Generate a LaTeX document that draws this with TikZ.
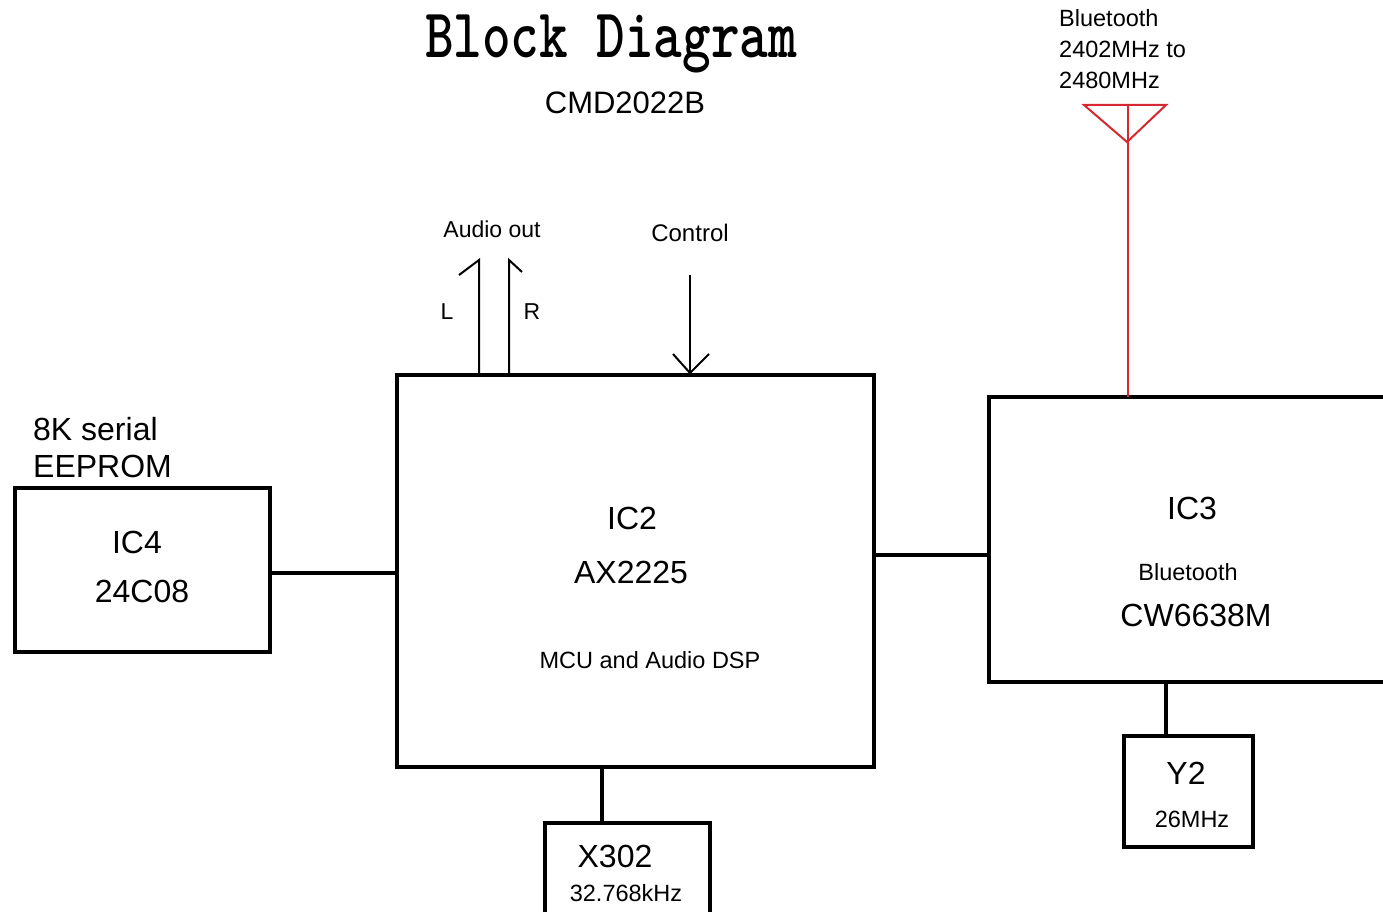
\documentclass[tikz,border=0pt]{standalone}
\usepackage{fontspec}
\setmainfont{Liberation Sans}
\definecolor{antred}{RGB}{214,40,48}
\begin{document}
\begin{tikzpicture}[x=1pt,y=-1pt,
  blk/.style={draw,line width=4pt,rectangle,inner sep=0pt,outer sep=0pt},
  wire/.style={line width=4pt},
  thin/.style={line width=2pt},
  big/.style={font=\fontsize{32}{36}\selectfont,anchor=base,inner sep=0pt},
  small/.style={font=\fontsize{23.5}{28}\selectfont,anchor=base,inner sep=0pt},
  lbl/.style={font=\fontsize{23}{28}\selectfont,anchor=base,inner sep=0pt}]
\useasboundingbox (0,0) rectangle (1383,912);
\clip (0,0) rectangle (1383,912);
% title
\node[anchor=base,inner sep=0pt] (title) at (611,58) {\scalebox{1}[1.28]{\ttfamily\bfseries\fontsize{54.5}{60}\selectfont Block Diagram}};
\node[anchor=base,inner sep=0pt,font=\fontsize{31}{36}\selectfont] (model) at (625,114) {CMD2022B};
% boxes
\node[blk,minimum width=255pt,minimum height=164pt] (IC4) at (142.5,570) {};
\node[blk,minimum width=477pt,minimum height=392pt] (IC2) at (635.5,571) {};
\node[blk,minimum width=411pt,minimum height=285pt] (IC3) at (1194.5,539.5) {};
\node[blk,minimum width=165pt,minimum height=102pt] (X302) at (627.5,874) {};
\node[blk,minimum width=129pt,minimum height=111pt] (Y2) at (1188.5,791.5) {};
% box texts
\node[big,anchor=base west] (eep1) at (33,440) {8K serial};
\node[big,anchor=base west] (eep2) at (33,477) {EEPROM};
\node[big] (t4a) at (137,553) {IC4};
\node[big] (t4b) at (142,602) {24C08};
\node[big] (t2a) at (632,529) {IC2};
\node[big] (t2b) at (631,583) {AX2225};
\node[small] (t2c) at (650,668) {MCU and Audio DSP};
\node[big] (t3a) at (1192,519) {IC3};
\node[small] (t3b) at (1188,580) {Bluetooth};
\node[big] (t3c) at (1196,626) {CW6638M};
\node[big] (tya) at (1186,784) {Y2};
\node[small] (tyb) at (1192,827) {26MHz};
\node[big] (txa) at (615,867) {X302};
\node[small] (txb) at (626,901) {32.768kHz};
% connectors
\draw[wire] (IC4.east |- 0,573) -- (IC2.west |- 0,573);
\draw[wire] (IC2.east |- 0,555) -- (IC3.west |- 0,555);
\draw[wire] (IC2.south -| 602,0) -- (X302.north -| 602,0);
\draw[wire] (IC3.south -| 1166,0) -- (Y2.north -| 1166,0);
% audio out
\node[lbl] (aout) at (492,237) {Audio out};
\node[lbl] (lL) at (447,319) {L};
\node[lbl] (lR) at (532,319) {R};
\coordinate (Ltip) at (479,260);
\coordinate (Rtip) at (509,260);
\draw[thin] (IC2.north -| Ltip) -- (Ltip) -- (459,275);
\draw[thin] (IC2.north -| Rtip) -- (Rtip) -- (522,272);
% control
\node[font=\fontsize{24}{28}\selectfont,anchor=base,inner sep=0pt] (ctl) at (690,241) {Control};
\coordinate (Ctop) at (690,275);
\coordinate (Ctip) at (690,373);
\draw[thin] (Ctop) -- (Ctip);
\draw[thin] (673,354) -- (Ctip) -- (709,354);
% antenna
\node[small,anchor=base west] (bt1) at (1059,27) {Bluetooth};
\node[small,anchor=base west] (bt2) at (1059,58) {2402MHz to};
\node[small,anchor=base west] (bt3) at (1059,89) {2480MHz};
\coordinate (ant) at (1128,105);
\draw[antred,line width=2pt,line join=miter] (1084,105) -- (1166,105) -- (1127,142) -- cycle;
\draw[antred,line width=2pt] (ant) -- (IC3.north -| ant);
\end{tikzpicture}
\end{document}
